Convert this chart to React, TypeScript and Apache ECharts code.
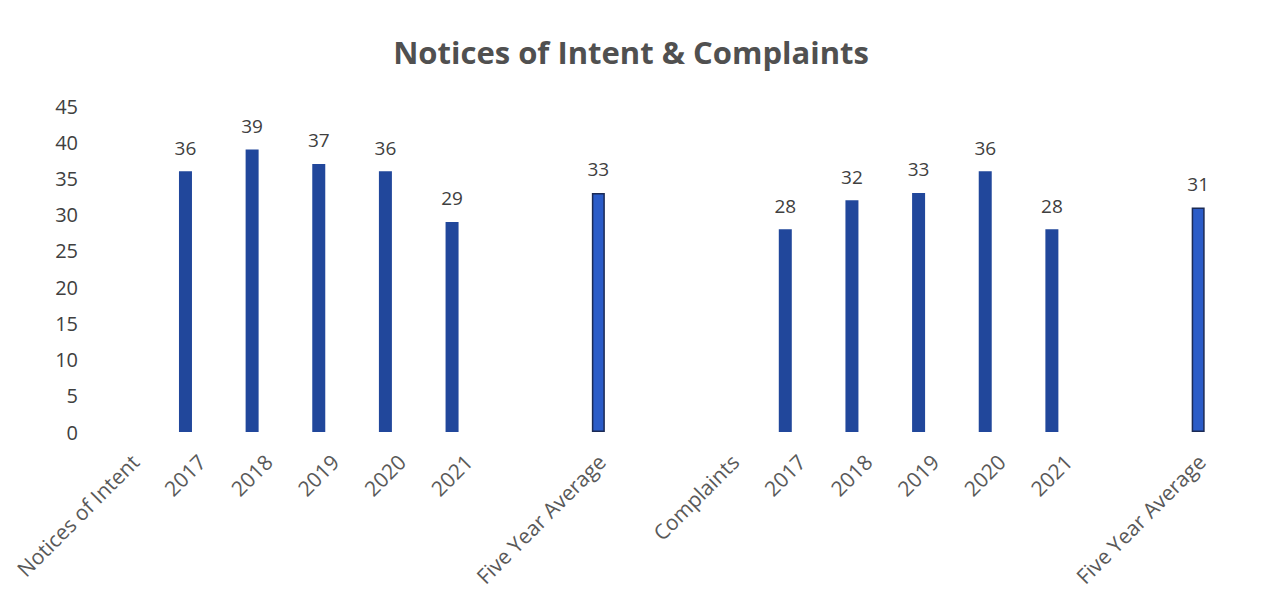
import React, { useEffect, useRef } from "react";
import * as echarts from "echarts";

const categories = [
  "Notices of Intent", "2017", "2018", "2019", "2020", "2021", "", "Five Year Average", "",
  "Complaints", "2017", "2018", "2019", "2020", "2021", "", "Five Year Average",
];
const yearValues = [null, 36, 39, 37, 36, 29, null, null, null, null, 28, 32, 33, 36, 28, null, null];
const averageValues = [null, null, null, null, null, null, null, 33, null, null, null, null, null, null, null, null, 31];
const yTicks = { min: 0, max: 45, interval: 5 };

const FONT = "'Open Sans', 'Noto Sans', sans-serif";

export default function App() {
  const ref = useRef<HTMLDivElement>(null);
  useEffect(() => {
    if (!ref.current) return;
    const chart = echarts.init(ref.current, undefined, { renderer: "svg" });
    const toData = (arr: (number | null)[]) => arr.map((v) => (v === null ? "-" : v));
    chart.setOption({
      animation: false,
      backgroundColor: "#ffffff",
      title: {
        text: "Notices of Intent & Complaints",
        left: "center",
        top: 31,
        textStyle: { fontFamily: FONT, fontSize: 31, fontWeight: "bold", color: "#505050" },
      },
      grid: { left: 92, right: 37, top: 106, bottom: 165, containLabel: false },
      xAxis: {
        type: "category",
        data: categories,
        axisLine: { show: false },
        axisTick: { show: false },
        axisLabel: {
          interval: 0,
          rotate: 45,
          margin: 36,
          padding: [0, -14, 0, 0],
          fontFamily: FONT,
          fontSize: 21,
          color: "#595959",
        },
      },
      yAxis: {
        type: "value",
        min: yTicks.min,
        max: yTicks.max,
        interval: yTicks.interval,
        axisLine: { show: false },
        axisTick: { show: false },
        splitLine: { show: false },
        axisLabel: { margin: 14, fontFamily: FONT, fontSize: 20, color: "#404040" },
      },
      series: [
        {
          type: "bar",
          data: toData(yearValues),
          barWidth: 13,
          barGap: "0%",
          itemStyle: { color: "#21479B" },
          label: {
            show: true,
            position: "top",
            distance: 14,
            fontFamily: FONT,
            fontSize: 19,
            color: "#404040",
          },
        },
        {
          type: "bar",
          data: toData(averageValues),
          barWidth: 13,
          barGap: "0%",
          itemStyle: { color: "#2B5CC8", borderColor: "#1B2A55", borderWidth: 1.5 },
          label: {
            show: true,
            position: "top",
            distance: 14,
            fontFamily: FONT,
            fontSize: 19,
            color: "#404040",
          },
        },
      ],
    });
    return () => chart.dispose();
  }, []);
  return (
    <div
      ref={ref}
      style={{ position: "fixed", left: 0, top: 0, width: 1262, height: 597, background: "#fff" }}
    />
  );
}
